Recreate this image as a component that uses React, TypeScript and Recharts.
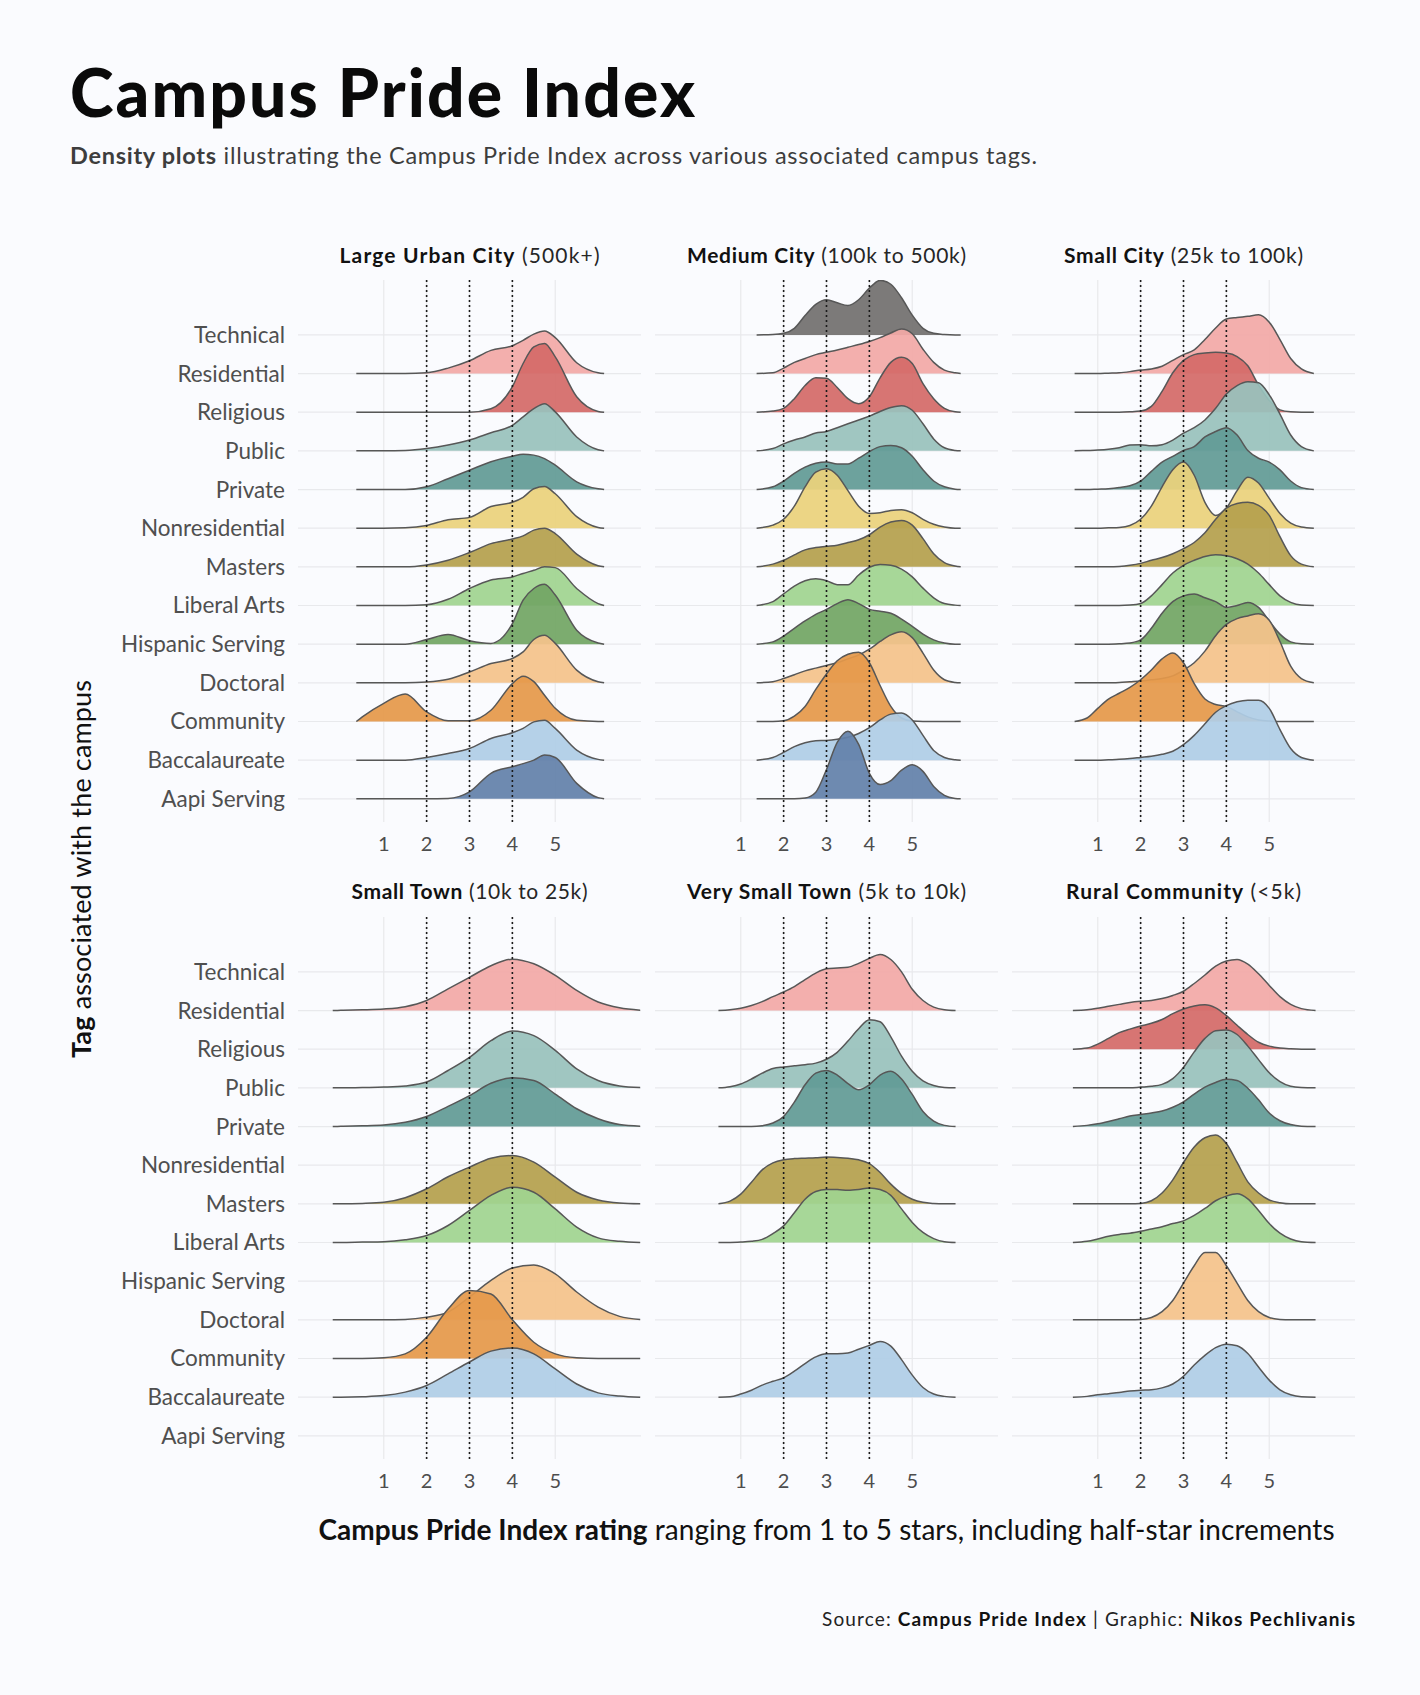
import React from 'react';
import { ComposedChart, Area, XAxis, YAxis, CartesianGrid, ReferenceLine } from 'recharts';

const FONT = 'Lato, "Open Sans", sans-serif';
const BG = '#fafbfe';

// Row order bottom (1) to top (13)
const TAGS = ['Aapi Serving', 'Baccalaureate', 'Community', 'Doctoral', 'Hispanic Serving', 'Liberal Arts', 'Masters', 'Nonresidential', 'Private', 'Public', 'Religious', 'Residential', 'Technical'];
const TAG_COLORS = ['#6381aa', '#afcde6', '#e5994a', '#f4c38b', '#72a664', '#a0d490', '#b5a04e', '#ebd27c', '#629b96', '#99c2bc', '#d46a68', '#f2a9a7', '#72706f'];
const ROW_TICKS = [1, 2, 3, 4, 5, 6, 7, 8, 9, 10, 11, 12, 13];
const X_TICKS = [1, 2, 3, 4, 5];
const CUTOFFS = [2, 3, 4];

// ---------- Large Urban City (500k+) ----------
const luX = [0.36, 0.5, 1, 1.5, 2, 2.5, 3, 3.5, 4, 4.25, 4.5, 4.75, 5, 5.5, 6, 6.14];
const luResidential = [0, 0, 0, 0, 0.02, 0.14, 0.33, 0.6, 0.72, 0.86, 1.02, 1.1, 0.93, 0.28, 0.02, 0];
const luReligious = [0, 0, 0, 0, 0, 0, 0, 0.09, 0.66, 1.26, 1.69, 1.78, 1.43, 0.4, 0.02, 0];
const luPublic = [0, 0, 0, 0.01, 0.06, 0.15, 0.28, 0.47, 0.66, 0.88, 1.09, 1.22, 1.01, 0.36, 0.03, 0];
const luPrivate = [0, 0, 0, 0, 0.07, 0.28, 0.5, 0.72, 0.86, 0.91, 0.89, 0.8, 0.63, 0.2, 0.02, 0];
const luNonresidential = [0, 0, 0, 0.01, 0.07, 0.22, 0.28, 0.56, 0.67, 0.8, 1.02, 1.08, 0.89, 0.3, 0.02, 0];
const luMasters = [0, 0, 0, 0, 0.05, 0.17, 0.37, 0.6, 0.72, 0.8, 0.95, 1.0, 0.86, 0.33, 0.03, 0];
const luLiberalArts = [0, 0, 0, 0, 0.02, 0.16, 0.44, 0.66, 0.74, 0.83, 0.91, 1.0, 0.98, 0.44, 0.05, 0];
const luHispanic = [0, 0, 0, 0, 0.12, 0.25, 0.09, 0.02, 0.53, 1.14, 1.44, 1.55, 1.27, 0.36, 0.03, 0];
const luDoctoral = [0, 0, 0, 0, 0.02, 0.09, 0.28, 0.5, 0.63, 0.8, 1.12, 1.23, 1.02, 0.33, 0.03, 0];
const luCommunity = [0, 0.12, 0.47, 0.71, 0.25, 0.02, 0.02, 0.29, 0.98, 1.17, 1.03, 0.68, 0.34, 0.03, 0, 0];
const luBaccalaureate = [0, 0, 0, 0, 0.07, 0.17, 0.3, 0.56, 0.71, 0.82, 0.99, 1.03, 0.82, 0.26, 0.02, 0];
const luAapi = [0, 0, 0, 0, 0, 0.01, 0.18, 0.66, 0.83, 0.91, 1.0, 1.13, 1.07, 0.4, 0.03, 0];

// ---------- Medium City (100k to 500k) ----------
const mcX = [1.37, 1.75, 2, 2.25, 2.5, 2.75, 3, 3.25, 3.5, 3.75, 4, 4.25, 4.5, 4.75, 5, 5.25, 5.5, 5.75, 6, 6.13];
const mcTechnical = [0, 0.01, 0.04, 0.17, 0.5, 0.79, 0.91, 0.83, 0.76, 0.91, 1.21, 1.41, 1.31, 0.96, 0.51, 0.17, 0.04, 0.01, 0, 0];
const mcResidential = [0, 0.02, 0.14, 0.29, 0.39, 0.49, 0.55, 0.61, 0.68, 0.75, 0.83, 0.93, 1.05, 1.15, 1.03, 0.63, 0.29, 0.09, 0.02, 0];
const mcReligious = [0, 0.03, 0.1, 0.35, 0.69, 0.89, 0.88, 0.64, 0.35, 0.22, 0.4, 0.89, 1.29, 1.42, 1.26, 0.74, 0.35, 0.1, 0.01, 0];
const mcPublic = [0, 0.06, 0.18, 0.28, 0.36, 0.46, 0.5, 0.6, 0.7, 0.8, 0.9, 1.02, 1.12, 1.17, 1.05, 0.7, 0.31, 0.08, 0.01, 0];
const mcPrivate = [0, 0.07, 0.22, 0.42, 0.58, 0.68, 0.71, 0.66, 0.66, 0.81, 0.98, 1.11, 1.14, 1.08, 0.86, 0.51, 0.22, 0.07, 0.01, 0];
const mcNonresidential = [0, 0.08, 0.23, 0.57, 1.07, 1.45, 1.54, 1.37, 0.97, 0.57, 0.38, 0.4, 0.46, 0.48, 0.4, 0.23, 0.1, 0.03, 0, 0];
const mcMasters = [0, 0.07, 0.17, 0.31, 0.44, 0.5, 0.53, 0.56, 0.63, 0.7, 0.83, 1.03, 1.16, 1.2, 1.08, 0.73, 0.34, 0.11, 0.02, 0];
const mcLiberalArts = [0, 0.1, 0.3, 0.5, 0.64, 0.69, 0.64, 0.54, 0.54, 0.79, 0.99, 1.06, 1.04, 0.94, 0.74, 0.45, 0.2, 0.05, 0.01, 0];
const mcHispanic = [0, 0.06, 0.21, 0.41, 0.6, 0.77, 0.9, 1.05, 1.15, 1.05, 0.9, 0.85, 0.8, 0.65, 0.46, 0.26, 0.11, 0.03, 0, 0];
const mcDoctoral = [0, 0.03, 0.11, 0.21, 0.31, 0.38, 0.45, 0.52, 0.62, 0.72, 0.87, 1.07, 1.24, 1.32, 1.17, 0.77, 0.33, 0.08, 0.01, 0];
const mcCommunity = [0, 0, 0.02, 0.14, 0.39, 0.83, 1.23, 1.57, 1.74, 1.79, 1.52, 0.93, 0.39, 0.09, 0.01, 0, 0, 0, 0, 0];
const mcBaccalaureate = [0, 0.07, 0.2, 0.35, 0.45, 0.5, 0.51, 0.54, 0.59, 0.69, 0.84, 1.04, 1.19, 1.22, 1.04, 0.64, 0.25, 0.07, 0.01, 0];
const mcAapi = [0, 0, 0, 0, 0.02, 0.17, 0.76, 1.46, 1.75, 1.41, 0.66, 0.37, 0.47, 0.74, 0.88, 0.71, 0.32, 0.09, 0.01, 0];

// ---------- Small City (25k to 100k) ----------
const scX = [0.46, 0.75, 1, 1.25, 1.5, 1.75, 2, 2.25, 2.5, 2.75, 3, 3.25, 3.5, 3.75, 4, 4.25, 4.5, 4.75, 5, 5.25, 5.5, 5.75, 6.04];
const scResidential = [0, 0, 0, 0.01, 0.02, 0.05, 0.09, 0.12, 0.19, 0.34, 0.49, 0.61, 0.88, 1.18, 1.41, 1.45, 1.48, 1.52, 1.33, 0.88, 0.39, 0.12, 0];
const scReligious = [0, 0, 0, 0, 0, 0.01, 0.03, 0.15, 0.54, 1.02, 1.34, 1.49, 1.53, 1.55, 1.53, 1.44, 1.2, 0.7, 0.3, 0.06, 0.01, 0, 0];
const scPublic = [0, 0.01, 0.02, 0.04, 0.08, 0.15, 0.16, 0.13, 0.16, 0.28, 0.46, 0.6, 0.8, 1.1, 1.47, 1.69, 1.79, 1.76, 1.45, 0.95, 0.41, 0.11, 0];
const scPrivate = [0, 0, 0.01, 0.02, 0.05, 0.1, 0.22, 0.47, 0.71, 0.86, 1.01, 1.11, 1.36, 1.5, 1.6, 1.41, 1.01, 0.81, 0.71, 0.51, 0.22, 0.05, 0];
const scNonresidential = [0, 0, 0, 0.01, 0.02, 0.07, 0.23, 0.57, 1.07, 1.51, 1.71, 1.37, 0.67, 0.33, 0.52, 0.97, 1.32, 1.17, 0.77, 0.38, 0.13, 0.03, 0];
const scMasters = [0, 0, 0, 0, 0.01, 0.04, 0.09, 0.17, 0.24, 0.34, 0.47, 0.63, 0.88, 1.23, 1.52, 1.64, 1.67, 1.59, 1.33, 0.78, 0.29, 0.07, 0];
const scLiberalArts = [0, 0, 0, 0, 0, 0.01, 0.05, 0.25, 0.54, 0.84, 1.04, 1.17, 1.27, 1.31, 1.29, 1.21, 1.07, 0.84, 0.54, 0.25, 0.08, 0.01, 0];
const scHispanic = [0, 0, 0, 0, 0.01, 0.03, 0.11, 0.41, 0.8, 1.1, 1.25, 1.3, 1.2, 1.1, 0.95, 1.0, 1.08, 0.95, 0.6, 0.26, 0.06, 0.01, 0];
const scDoctoral = [0, 0, 0, 0, 0.01, 0.03, 0.05, 0.08, 0.11, 0.18, 0.33, 0.52, 0.82, 1.22, 1.51, 1.66, 1.73, 1.79, 1.62, 1.07, 0.43, 0.11, 0];
const scCommunity = [0, 0.09, 0.34, 0.58, 0.73, 0.88, 1.08, 1.33, 1.62, 1.77, 1.52, 0.98, 0.58, 0.44, 0.39, 0.25, 0.12, 0.04, 0.01, 0, 0, 0, 0];
const scBaccalaureate = [0, 0, 0, 0.01, 0.02, 0.04, 0.07, 0.1, 0.15, 0.23, 0.4, 0.64, 0.94, 1.24, 1.41, 1.51, 1.55, 1.55, 1.34, 0.79, 0.3, 0.07, 0];

// ---------- Small Town (10k to 25k) ----------
const stX = [-0.19, 0, 0.5, 1, 1.5, 2, 2.5, 3, 3.5, 4, 4.5, 5, 5.5, 6, 6.5, 6.98];
const stResidential = [0, 0.01, 0.02, 0.04, 0.1, 0.26, 0.56, 0.86, 1.16, 1.33, 1.21, 0.91, 0.52, 0.22, 0.07, 0.01];
const stPublic = [0, 0, 0.01, 0.02, 0.05, 0.15, 0.45, 0.79, 1.22, 1.47, 1.35, 0.97, 0.49, 0.19, 0.05, 0.01];
const stPrivate = [0, 0.01, 0.02, 0.04, 0.11, 0.26, 0.52, 0.8, 1.12, 1.26, 1.19, 0.84, 0.46, 0.2, 0.05, 0.01];
const stMasters = [0, 0, 0.01, 0.04, 0.16, 0.39, 0.7, 0.95, 1.18, 1.25, 1.08, 0.69, 0.3, 0.1, 0.02, 0];
const stLiberalArts = [0, 0, 0.01, 0.02, 0.07, 0.18, 0.44, 0.83, 1.22, 1.43, 1.3, 0.87, 0.4, 0.12, 0.03, 0];
const stDoctoral = [0, 0, 0, 0, 0.01, 0.07, 0.2, 0.59, 1.02, 1.34, 1.42, 1.19, 0.72, 0.33, 0.09, 0.01];
const stCommunity = [0, 0, 0, 0.02, 0.12, 0.55, 1.28, 1.76, 1.67, 1.0, 0.42, 0.12, 0.02, 0, 0, 0];
const stBaccalaureate = [0, 0, 0.01, 0.04, 0.13, 0.3, 0.6, 0.91, 1.19, 1.27, 1.12, 0.73, 0.34, 0.11, 0.03, 0];

// ---------- Very Small Town (5k to 10k) ----------
const vsX = [0.48, 0.75, 1, 1.25, 1.5, 1.75, 2, 2.25, 2.5, 2.75, 3, 3.25, 3.5, 3.75, 4, 4.25, 4.5, 4.75, 5, 5.25, 5.5, 5.75, 6.01];
const vsResidential = [0, 0.02, 0.06, 0.13, 0.23, 0.36, 0.48, 0.62, 0.8, 0.97, 1.08, 1.1, 1.12, 1.22, 1.35, 1.45, 1.32, 1.0, 0.55, 0.26, 0.09, 0.02, 0];
const vsPublic = [0, 0.03, 0.1, 0.23, 0.38, 0.5, 0.54, 0.57, 0.6, 0.64, 0.74, 0.92, 1.21, 1.53, 1.76, 1.71, 1.32, 0.82, 0.43, 0.18, 0.06, 0.01, 0];
const vsPrivate = [0, 0, 0, 0, 0.02, 0.09, 0.26, 0.63, 1.08, 1.38, 1.45, 1.33, 1.11, 0.95, 1.08, 1.33, 1.43, 1.23, 0.83, 0.39, 0.14, 0.03, 0];
const vsMasters = [0, 0.07, 0.25, 0.56, 0.88, 1.06, 1.14, 1.17, 1.18, 1.19, 1.21, 1.2, 1.18, 1.14, 1.04, 0.81, 0.51, 0.27, 0.12, 0.04, 0.01, 0, 0];
const vsLiberalArts = [0, 0, 0.01, 0.03, 0.08, 0.23, 0.43, 0.77, 1.12, 1.32, 1.37, 1.37, 1.35, 1.37, 1.41, 1.37, 1.22, 0.87, 0.52, 0.26, 0.1, 0.02, 0];
const vsBaccalaureate = [0, 0.01, 0.08, 0.18, 0.31, 0.41, 0.5, 0.67, 0.87, 1.04, 1.12, 1.12, 1.14, 1.24, 1.34, 1.44, 1.32, 0.97, 0.57, 0.25, 0.08, 0.02, 0];

// ---------- Rural Community (<5k) ----------
const rcX = [0.42, 0.75, 1, 1.25, 1.5, 1.75, 2, 2.25, 2.5, 2.75, 3, 3.25, 3.5, 3.75, 4, 4.25, 4.5, 4.75, 5, 5.25, 5.5, 5.75, 6.08];
const rcResidential = [0, 0.02, 0.06, 0.11, 0.16, 0.21, 0.24, 0.26, 0.31, 0.39, 0.5, 0.7, 0.92, 1.15, 1.28, 1.32, 1.2, 0.95, 0.65, 0.36, 0.16, 0.05, 0];
const rcReligious = [0, 0.03, 0.13, 0.28, 0.43, 0.52, 0.6, 0.67, 0.77, 0.92, 1.04, 1.12, 1.15, 1.07, 0.87, 0.62, 0.38, 0.18, 0.08, 0.03, 0.01, 0, 0];
const rcPublic = [0, 0, 0, 0, 0, 0, 0.02, 0.04, 0.09, 0.24, 0.53, 0.93, 1.28, 1.48, 1.5, 1.38, 1.08, 0.73, 0.39, 0.16, 0.04, 0.01, 0];
const rcPrivate = [0, 0.03, 0.07, 0.13, 0.2, 0.27, 0.31, 0.35, 0.4, 0.5, 0.64, 0.84, 1.02, 1.14, 1.22, 1.19, 0.99, 0.69, 0.35, 0.15, 0.05, 0.01, 0];
const rcMasters = [0, 0, 0, 0, 0, 0, 0.01, 0.08, 0.28, 0.62, 1.07, 1.47, 1.71, 1.78, 1.56, 1.07, 0.57, 0.28, 0.1, 0.03, 0, 0, 0];
const rcLiberalArts = [0, 0.03, 0.09, 0.16, 0.21, 0.24, 0.29, 0.35, 0.41, 0.49, 0.56, 0.7, 0.88, 1.08, 1.2, 1.26, 1.13, 0.83, 0.49, 0.24, 0.09, 0.02, 0];
const rcDoctoral = [0, 0, 0, 0, 0, 0, 0.01, 0.06, 0.21, 0.5, 0.95, 1.4, 1.74, 1.74, 1.4, 0.95, 0.5, 0.21, 0.06, 0.01, 0, 0, 0];
const rcBaccalaureate = [0, 0.02, 0.06, 0.09, 0.12, 0.16, 0.18, 0.19, 0.24, 0.34, 0.54, 0.83, 1.08, 1.28, 1.37, 1.33, 1.13, 0.78, 0.44, 0.19, 0.06, 0.01, 0];

type Ridge = { tag: string; h: number[] };
type PanelDef = { bold: string; rest: string; xs: number[]; ridges: Ridge[]; col: number; row: number };

// layout constants
const PLOT_W = 343;
const PLOT_H = 542;
const Y_AXIS_W = 240;
const ROW_TOPS = [280, 916.5];
const COL_LEFTS = [298, 655, 1012];
const TITLE_WIDTHS = [260, 279, 239, 236, 279, 235];

const PANELS: PanelDef[] = [
  {
    bold: 'Large Urban City', rest: ' (500k+)', xs: luX, col: 0, row: 0,
    ridges: [
      { tag: 'Residential', h: luResidential }, { tag: 'Religious', h: luReligious }, { tag: 'Public', h: luPublic },
      { tag: 'Private', h: luPrivate }, { tag: 'Nonresidential', h: luNonresidential }, { tag: 'Masters', h: luMasters },
      { tag: 'Liberal Arts', h: luLiberalArts }, { tag: 'Hispanic Serving', h: luHispanic }, { tag: 'Doctoral', h: luDoctoral },
      { tag: 'Community', h: luCommunity }, { tag: 'Baccalaureate', h: luBaccalaureate }, { tag: 'Aapi Serving', h: luAapi },
    ],
  },
  {
    bold: 'Medium City', rest: ' (100k to 500k)', xs: mcX, col: 1, row: 0,
    ridges: [
      { tag: 'Technical', h: mcTechnical }, { tag: 'Residential', h: mcResidential }, { tag: 'Religious', h: mcReligious },
      { tag: 'Public', h: mcPublic }, { tag: 'Private', h: mcPrivate }, { tag: 'Nonresidential', h: mcNonresidential },
      { tag: 'Masters', h: mcMasters }, { tag: 'Liberal Arts', h: mcLiberalArts }, { tag: 'Hispanic Serving', h: mcHispanic },
      { tag: 'Doctoral', h: mcDoctoral }, { tag: 'Community', h: mcCommunity }, { tag: 'Baccalaureate', h: mcBaccalaureate },
      { tag: 'Aapi Serving', h: mcAapi },
    ],
  },
  {
    bold: 'Small City', rest: ' (25k to 100k)', xs: scX, col: 2, row: 0,
    ridges: [
      { tag: 'Residential', h: scResidential }, { tag: 'Religious', h: scReligious }, { tag: 'Public', h: scPublic },
      { tag: 'Private', h: scPrivate }, { tag: 'Nonresidential', h: scNonresidential }, { tag: 'Masters', h: scMasters },
      { tag: 'Liberal Arts', h: scLiberalArts }, { tag: 'Hispanic Serving', h: scHispanic }, { tag: 'Doctoral', h: scDoctoral },
      { tag: 'Community', h: scCommunity }, { tag: 'Baccalaureate', h: scBaccalaureate },
    ],
  },
  {
    bold: 'Small Town', rest: ' (10k to 25k)', xs: stX, col: 0, row: 1,
    ridges: [
      { tag: 'Residential', h: stResidential }, { tag: 'Public', h: stPublic }, { tag: 'Private', h: stPrivate },
      { tag: 'Masters', h: stMasters }, { tag: 'Liberal Arts', h: stLiberalArts }, { tag: 'Doctoral', h: stDoctoral },
      { tag: 'Community', h: stCommunity }, { tag: 'Baccalaureate', h: stBaccalaureate },
    ],
  },
  {
    bold: 'Very Small Town', rest: ' (5k to 10k)', xs: vsX, col: 1, row: 1,
    ridges: [
      { tag: 'Residential', h: vsResidential }, { tag: 'Public', h: vsPublic }, { tag: 'Private', h: vsPrivate },
      { tag: 'Masters', h: vsMasters }, { tag: 'Liberal Arts', h: vsLiberalArts }, { tag: 'Baccalaureate', h: vsBaccalaureate },
    ],
  },
  {
    bold: 'Rural Community', rest: ' (<5k)', xs: rcX, col: 2, row: 1,
    ridges: [
      { tag: 'Residential', h: rcResidential }, { tag: 'Religious', h: rcReligious }, { tag: 'Public', h: rcPublic },
      { tag: 'Private', h: rcPrivate }, { tag: 'Masters', h: rcMasters }, { tag: 'Liberal Arts', h: rcLiberalArts },
      { tag: 'Doctoral', h: rcDoctoral }, { tag: 'Baccalaureate', h: rcBaccalaureate },
    ],
  },
];

const rowOf = (tag: string) => TAGS.indexOf(tag) + 1;

function RidgePanel({ panel }: { panel: PanelDef }) {
  const showY = panel.col === 0;
  const data = panel.xs.map((x, i) => {
    const row: Record<string, number> = { x };
    panel.ridges.forEach((r) => {
      row[r.tag] = rowOf(r.tag) + r.h[i];
    });
    return row;
  });
  const ordered = [...panel.ridges].sort((a, b) => rowOf(b.tag) - rowOf(a.tag));
  const yw = showY ? Y_AXIS_W : 0;
  return (
    <ComposedChart
      width={PLOT_W + yw}
      height={10 + PLOT_H + 40}
      data={data}
      margin={{ top: 10, right: 0, bottom: 0, left: 0 }}
    >
      <CartesianGrid stroke="#e8e9ec" strokeWidth={1.2} syncWithTicks />
      <XAxis
        type="number"
        dataKey="x"
        domain={[-1, 7]}
        ticks={X_TICKS}
        allowDataOverflow
        axisLine={false}
        tickLine={false}
        height={40}
        tickMargin={9}
        tick={{ fill: '#4d4d4d', fontSize: 20, fontFamily: FONT }}
      />
      <YAxis
        type="number"
        domain={[0.4, 14.42]}
        ticks={ROW_TICKS}
        allowDataOverflow
        hide={!showY}
        width={yw}
        axisLine={false}
        tickLine={false}
        tickMargin={7}
        tickFormatter={(v: number) => TAGS[v - 1]}
        tick={{ fill: '#4f4f4f', fontSize: 22.5, fontFamily: FONT }}
      />
      {ordered.map((r) => {
        const idx = TAGS.indexOf(r.tag);
        return (
          <Area
            key={r.tag}
            dataKey={r.tag}
            type="monotone"
            baseValue={idx + 1}
            fill={TAG_COLORS[idx]}
            fillOpacity={0.93}
            stroke="#575757"
            strokeWidth={1.5}
            dot={false}
            activeDot={false}
            isAnimationActive={false}
          />
        );
      })}
      {CUTOFFS.map((c) => (
        <ReferenceLine key={c} x={c} stroke="#1a1a1a" strokeWidth={1.6} strokeDasharray="2 3" />
      ))}
    </ComposedChart>
  );
}

export default function App() {
  return (
    <div
      style={{
        position: 'absolute',
        left: 0,
        top: 0,
        width: 1420,
        height: 1695,
        background: BG,
        fontFamily: FONT,
        overflow: 'hidden',
      }}
    >
      {PANELS.map((p) => (
        <div
          key={p.bold}
          style={{
            position: 'absolute',
            left: COL_LEFTS[p.col] - (p.col === 0 ? Y_AXIS_W : 0),
            top: ROW_TOPS[p.row] - 10,
          }}
        >
          <RidgePanel panel={p} />
        </div>
      ))}
      <svg
        width={1420}
        height={1695}
        style={{ position: 'absolute', left: 0, top: 0, pointerEvents: 'none' }}
        fontFamily={FONT}
      >
        <text x={70} y={117} fontSize={66} fontWeight={900} fill="#0a0a0a" textLength={625} lengthAdjust="spacing">
          Campus Pride Index
        </text>
        <text x={70} y={163.5} fontSize={23.5} fill="#3d3d3d" textLength={967} lengthAdjust="spacing">
          <tspan fontWeight={700}>Density plots</tspan>
          {' illustrating the Campus Pride Index across various associated campus tags.'}
        </text>
        {PANELS.map((p, i) => (
          <text
            key={p.bold}
            x={COL_LEFTS[p.col] + PLOT_W / 2}
            y={ROW_TOPS[p.row] - 17.5}
            fontSize={21}
            textAnchor="middle"
            fill="#262626"
            textLength={TITLE_WIDTHS[i]}
            lengthAdjust="spacing"
          >
            <tspan fontWeight={700} fill="#111">{p.bold}</tspan>
            {p.rest}
          </text>
        ))}
        <text
          transform="translate(91 869) rotate(-90)"
          fontSize={27}
          textAnchor="middle"
          fill="#111"
          textLength={378}
          lengthAdjust="spacing"
        >
          <tspan fontWeight={700}>Tag</tspan>
          {' associated with the campus'}
        </text>
        <text x={826.5} y={1540} fontSize={28} textAnchor="middle" fill="#111" textLength={1016} lengthAdjust="spacing">
          <tspan fontWeight={700}>Campus Pride Index rating</tspan>
          {' ranging from 1 to 5 stars, including half-star increments'}
        </text>
        <text x={1355} y={1626} fontSize={19} textAnchor="end" fill="#222" textLength={533} lengthAdjust="spacing">
          {'Source: '}
          <tspan fontWeight={700} fill="#111">Campus Pride Index</tspan>
          {' | Graphic: '}
          <tspan fontWeight={700} fill="#111">Nikos Pechlivanis</tspan>
        </text>
      </svg>
    </div>
  );
}
